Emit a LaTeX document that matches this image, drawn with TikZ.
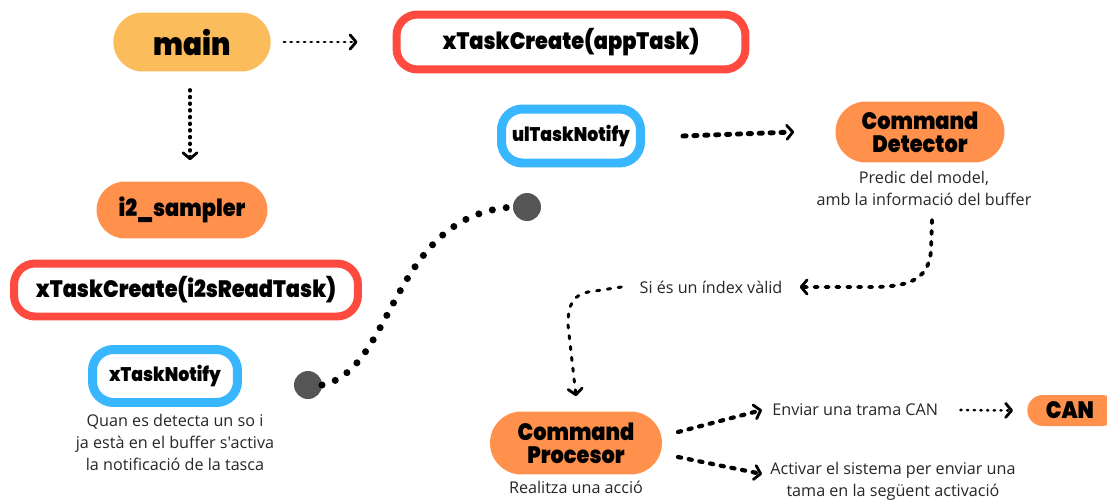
\documentclass[tikz,border=0pt]{standalone}
\usepackage{fontspec}
\setmainfont{Open Sans}[Ligatures=TeXOff]
\newfontfamily\headfont{Poppins Black}[FakeStretch=0.88]
\usetikzlibrary{arrows.meta,shapes.misc}

\definecolor{mainyellow}{HTML}{FBBC5C}
\definecolor{pillorange}{HTML}{FF914D}
\definecolor{taskred}{HTML}{FF4A3F}
\definecolor{notifyblue}{HTML}{38B6FF}
\definecolor{dotgray}{HTML}{555555}

\tikzset{
  x=0.02cm, y=-0.02cm,
  head/.style={font=\headfont\fontsize{#1}{13}\selectfont, text=black, align=center},
  pill/.style={rounded rectangle, fill=pillorange, inner sep=0pt},
  redbox/.style={draw=taskred, line width=0.16cm, rounded corners=0.42cm, fill=white, inner sep=0pt},
  bluebox/.style={draw=notifyblue, line width=0.18cm, rounded corners=0.42cm, fill=white, inner sep=0pt},
  note/.style={font=\fontsize{9.2}{12.5}\selectfont, align=center, text=black!85, inner sep=0pt},
  chev/.style={-{Straight Barb[length=3.4pt, width=8pt, line width=1.6pt, round]}},
  dotline/.style={line width=#1, line cap=round, dash pattern=on 0.6pt off 3.2pt, chev},
  dashline/.style={line width=#1, line cap=round, dash pattern=on 1.8pt off 4.4pt, chev},
  endpoint/.style={circle, fill=dotgray, minimum size=0.56cm, inner sep=0pt},
}

\begin{document}
\begin{tikzpicture}
\useasboundingbox (0,0) rectangle (1107,501);

% top row
\node[rounded rectangle, fill=mainyellow, minimum width=3.38cm, minimum height=1.18cm, head=18] (main) at (192,42) {main};
\node[redbox, minimum width=6.98cm, minimum height=1.1cm, head=13.5] (appTask) at (571,42) {xTaskCreate(appTask)};

% left column
\node[pill, minimum width=3.42cm, minimum height=1.14cm, head=13.5] (sampler) at (182,210) {i2\_sampler};
\node[redbox, minimum width=6.88cm, minimum height=1.06cm, head=13.5] (readTask) at (186,290) {xTaskCreate(i2sReadTask)};
\node[bluebox, minimum width=2.9cm, minimum height=1.06cm, head=11.2] (xnotify) at (165,376) {xTaskNotify};
\node[note, anchor=north] (xnotifytxt) at (175,414) {Quan es detecta un so i\\ja està en el buffer s'activa\\la notificació de la tasca};

% notification link
\node[endpoint] (dotA) at (308,385) {};
\node[endpoint] (dotB) at (527,207) {};

% right part
\node[bluebox, minimum width=2.78cm, minimum height=1.08cm, head=11.2] (ulnotify) at (571,136) {ulTaskNotify};
\node[pill, minimum width=3.38cm, minimum height=1.22cm, head=13.5] (detector) at (920,132) {Command\\Detector};
\node[note, anchor=north] (detectortxt) at (924,171) {Predic del model,\\amb la informació del buffer};

\node[note] (valid) at (711,287) {Si és un índex vàlid};

\node[pill, minimum width=3.44cm, minimum height=1.26cm, head=13.5] (procesor) at (576,443) {Command\\Procesor};
\node[note, anchor=north] (procesortxt) at (576,481) {Realitza una acció};

\node[note, anchor=west] (enviar) at (772,410) {Enviar una trama CAN};
\node[note, anchor=north] (activar) at (893,462) {Activar el sistema per enviar una\\tama en la següent activació};
\node[pill, minimum width=1.8cm, minimum height=0.62cm, head=13.5, anchor=west] (can) at (1027,410.5) {\hspace*{-0.1cm}CAN};

% connectors
\draw[dotline=1.7pt] ([xshift=0.26cm]main.east) -- ([xshift=-0.7cm]appTask.west);
\draw[dotline=2pt] ([yshift=-0.36cm]main.south -| 190,0) -- ([yshift=0.42cm]sampler.north -| 190,0);
\draw[dashline=2.8pt] ([xshift=0.76cm]ulnotify.east) -- ([xshift=-0.82cm]detector.west);

\draw[line width=4pt, line cap=round, dash pattern=on 0pt off 8pt]
  ([xshift=0.28cm]dotA.center) .. controls (395,370) and (390,215) .. ([xshift=-0.28cm]dotB.center);

\draw[dashline=2.2pt] (932,220) -- (931,250) .. controls (929,282) and (905,287) .. (870,287) -- ([xshift=0.34cm]valid.east);
\draw[dashline=1.7pt] ([xshift=-0.36cm]valid.west) -- (595,291) .. controls (572,293) and (568,305) .. (568,325) -- ([yshift=0.3cm]procesor.north);

\draw[dashline=2.4pt] (678,432) -- ([xshift=-0.2cm]enviar.west);
\draw[dashline=2.4pt] (678,457) -- (762,474);
\draw[dotline=1.5pt] ([xshift=0.44cm]enviar.east) -- ([xshift=-0.28cm]can.west);
\end{tikzpicture}
\end{document}
